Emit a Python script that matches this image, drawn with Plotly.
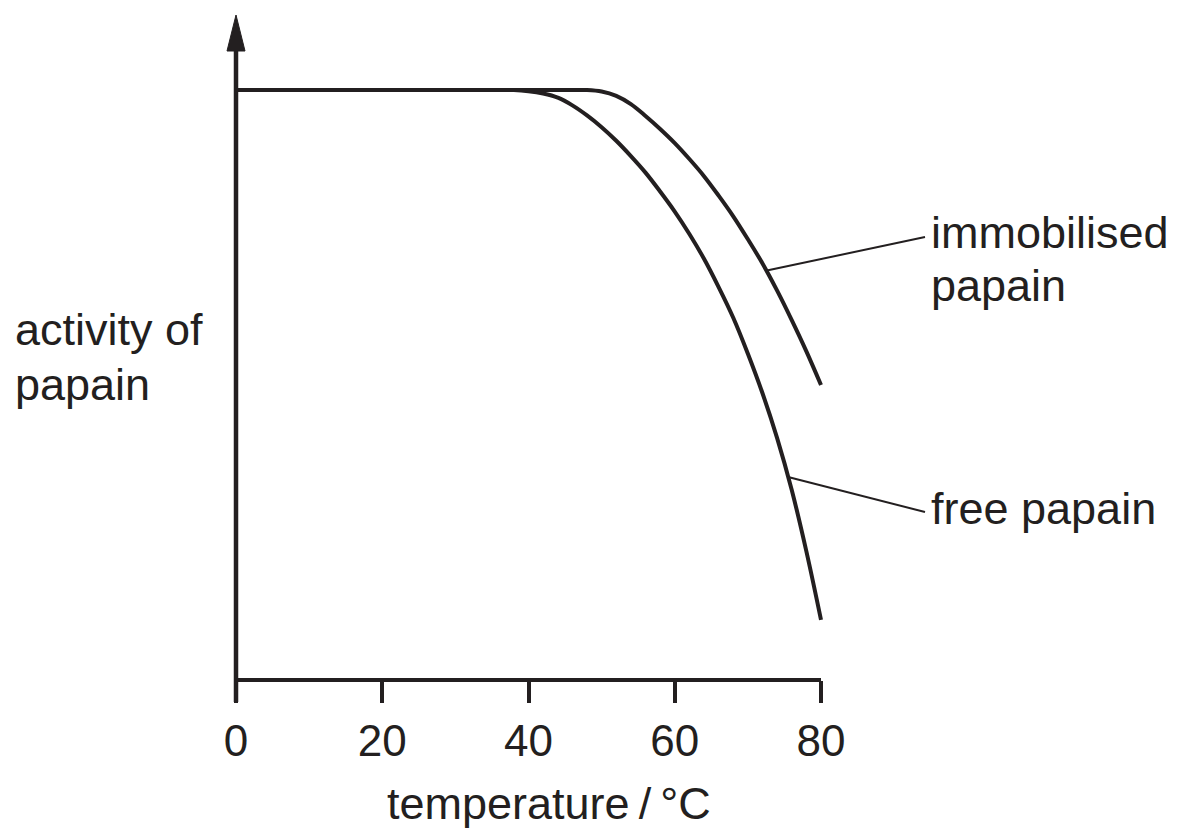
import plotly.graph_objects as go

# ---- data ----
temp_free = [0, 30, 32, 34, 36, 38, 40, 42, 44, 46, 48, 50, 52, 54, 56, 58, 60,
             62, 64, 66, 68, 70, 72, 74, 76, 78, 80]
act_free = [100, 100, 100, 100, 100, 100, 99.8, 99.4, 98.7, 97.4, 95.7, 93.7, 91.4, 88.8, 86.0, 82.8, 79.4,
            75.6, 71.4, 66.6, 61.4, 55.3, 48.6, 41.0, 32.2, 21.8, 10.2]

temp_imm = [0, 40, 42, 44, 46, 48, 50, 52, 54, 56, 58, 60, 62, 64, 66, 68, 70,
            72, 74, 76, 78, 80]
act_imm = [100, 100, 100, 100, 100, 100, 99.75, 99.0, 97.6, 95.6, 93.4, 91.0, 88.3, 85.4, 82.1, 78.6, 74.7,
           70.6, 66.0, 61.0, 55.7, 50.0]

x_ticks = [0, 20, 40, 60, 80]
x_title = "temperature\u2009/\u2009°C"
y_title = ["activity of", "papain"]
label_imm = ["immobilised", "papain"]
label_free = "free papain"

# leader-line anchor points on the curves (temperature, activity)
leader_imm = (72.6, 69.4)
leader_free = (75.5, 34.4)

# ---- geometry helpers (pixel -> data) ----
W, H = 1183, 840
X0_PX, X80_PX = 236, 821
Y0_PX = 680
KX = (X80_PX - X0_PX) / 80.0
KY = 5.9


def dx(px):
    return (px - X0_PX) / KX


def dy(py):
    return (Y0_PX - py) / KY


INK = "#231f20"
FONT = "Liberation Sans, Arial, sans-serif"

fig = go.Figure()
fig.add_trace(go.Scatter(x=temp_free, y=act_free, mode="lines",
                         line=dict(color=INK, width=4, shape="spline", smoothing=1.0),
                         hoverinfo="skip", showlegend=False))
fig.add_trace(go.Scatter(x=temp_imm, y=act_imm, mode="lines",
                         line=dict(color=INK, width=4, shape="spline", smoothing=1.0),
                         hoverinfo="skip", showlegend=False))

# leader lines (from curve to label)
fig.add_trace(go.Scatter(x=[leader_imm[0], dx(925)], y=[leader_imm[1], dy(237)], mode="lines",
                         line=dict(color=INK, width=2), hoverinfo="skip", showlegend=False))
fig.add_trace(go.Scatter(x=[leader_free[0], dx(925)], y=[leader_free[1], dy(512)], mode="lines",
                         line=dict(color=INK, width=2), hoverinfo="skip", showlegend=False))

shapes = [
    dict(type="line", xref="x", yref="y", x0=dx(X0_PX - 2), x1=80, y0=0, y1=0,
         line=dict(color=INK, width=4)),
    dict(type="line", xref="x", yref="y", x0=0, x1=0, y0=dy(Y0_PX + 22), y1=dy(48),
         line=dict(color=INK, width=4.5)),
    dict(type="path", xref="x", yref="y",
         path=f"M {dx(236)},{dy(15)} L {dx(227)},{dy(51)} L {dx(245)},{dy(51)} Z",
         fillcolor=INK, line=dict(color=INK, width=1)),
]

annotations = [
    dict(text=label_imm[0], x=dx(929), y=dy(232), xref="x", yref="y", showarrow=False,
         xanchor="left", yanchor="middle", font=dict(size=45, color=INK, family=FONT)),
    dict(text=label_imm[1], x=dx(929), y=dy(285), xref="x", yref="y", showarrow=False,
         xanchor="left", yanchor="middle", font=dict(size=45, color=INK, family=FONT)),
    dict(text=label_free, x=dx(929), y=dy(508), xref="x", yref="y", showarrow=False,
         xanchor="left", yanchor="middle", font=dict(size=45, color=INK, family=FONT)),
    dict(text=y_title[0], x=dx(13), y=dy(329), xref="x", yref="y", showarrow=False,
         xanchor="left", yanchor="middle", font=dict(size=45, color=INK, family=FONT)),
    dict(text=y_title[1], x=dx(13), y=dy(384), xref="x", yref="y", showarrow=False,
         xanchor="left", yanchor="middle", font=dict(size=45, color=INK, family=FONT)),
    dict(text=x_title, x=dx(549), y=dy(803), xref="x", yref="y", showarrow=False,
         xanchor="center", yanchor="middle", font=dict(size=45, color=INK, family=FONT)),
]

fig.update_layout(
    width=W, height=H,
    margin=dict(l=0, r=0, t=0, b=0),
    paper_bgcolor="white", plot_bgcolor="white",
    shapes=shapes, annotations=annotations,
    xaxis=dict(range=[dx(0), dx(W)], tickvals=x_ticks, ticktext=[str(v) for v in x_ticks],
               ticks="outside", ticklen=22, tickwidth=4, tickcolor=INK,
               showline=False, showgrid=False, zeroline=False,
               anchor="free", position=(H - Y0_PX) / H,
               tickfont=dict(size=44, color=INK, family=FONT),
               fixedrange=True),
    yaxis=dict(range=[dy(H), dy(0)], visible=False, showgrid=False, zeroline=False,
               fixedrange=True),
)

fig.write_html("out.html")
